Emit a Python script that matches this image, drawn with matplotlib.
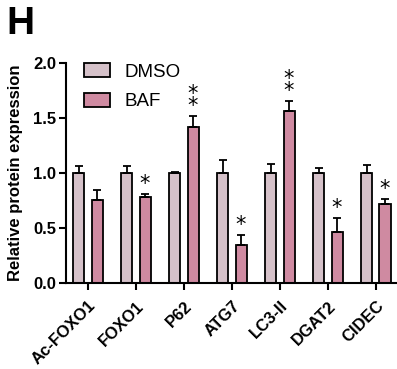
import matplotlib
matplotlib.use("Agg")
import matplotlib.pyplot as plt
import numpy as np

plt.rcParams["font.family"] = ["Liberation Sans", "DejaVu Sans"]

categories = ["Ac-FOXO1", "FOXO1", "P62", "ATG7", "LC3-II", "DGAT2", "CIDEC"]
dmso = [1.0, 1.0, 1.0, 1.0, 1.0, 1.0, 1.0]
dmso_err = [0.06, 0.06, 0.01, 0.12, 0.08, 0.05, 0.075]
baf = [0.755, 0.78, 1.415, 0.345, 1.567, 0.46, 0.718]
baf_err = [0.09, 0.03, 0.10, 0.09, 0.09, 0.13, 0.045]
stars = ["", "*", "**", "*", "**", "*", "*"]
yticks = [0.0, 0.5, 1.0, 1.5, 2.0]

c_dmso = "#d5c1c9"
c_baf = "#cf8aa1"

fig = plt.figure(figsize=(3.97, 3.69), dpi=100)
ax = fig.add_axes([0.166, 0.233, 0.834, 0.596])

x = np.arange(len(categories))
w = 0.23
off = 0.19
ax.bar(x - off, dmso, w, color=c_dmso, edgecolor="black", linewidth=1.3, label="DMSO", zorder=2)
ax.bar(x + off, baf, w, color=c_baf, edgecolor="black", linewidth=1.3, label="BAF", zorder=2)
ax.errorbar(x - off, dmso, yerr=[np.zeros(len(dmso)), dmso_err], fmt="none", ecolor="black",
            elinewidth=1.3, capsize=3, capthick=1.3, zorder=3)
ax.errorbar(x + off, baf, yerr=[np.zeros(len(baf)), baf_err], fmt="none", ecolor="black",
            elinewidth=1.3, capsize=3, capthick=1.3, zorder=3)

for xi, v, e, s in zip(x, baf, baf_err, stars):
    if s:
        txt = "\n".join(s)
        ax.text(xi + off, v + e + 0.0, txt, ha="center", va="bottom", fontsize=15,
                linespacing=0.5, fontfamily="DejaVu Sans")

ax.set_xlim(-0.46, 6.44)
ax.set_ylim(0, 2.0)
ax.set_yticks(yticks)
ax.set_yticklabels([f"{t:.1f}" for t in yticks], fontsize=12, fontweight="bold")
ax.set_xticks(x)
ax.set_xticklabels(categories, rotation=45, ha="right", rotation_mode="anchor",
                   fontsize=12, fontweight="bold")
ax.set_ylabel("Relative protein expression", fontsize=12, fontweight="bold", labelpad=7)
for sp in ["top", "right"]:
    ax.spines[sp].set_visible(False)
for sp in ["left", "bottom"]:
    ax.spines[sp].set_linewidth(1.5)
ax.tick_params(axis="both", width=1.5, length=5, direction="out", pad=2)
ax.tick_params(axis="x", pad=6)

leg = ax.legend(loc="upper left", bbox_to_anchor=(0.005, 1.075), frameon=False, fontsize=13.5,
                handlelength=1.35, handleheight=0.75, labelspacing=0.65, handletextpad=0.8)

fig.text(0.015, 0.985, "H", fontsize=28, fontweight="bold", va="top", ha="left")

fig.savefig("out.png", dpi=100)
